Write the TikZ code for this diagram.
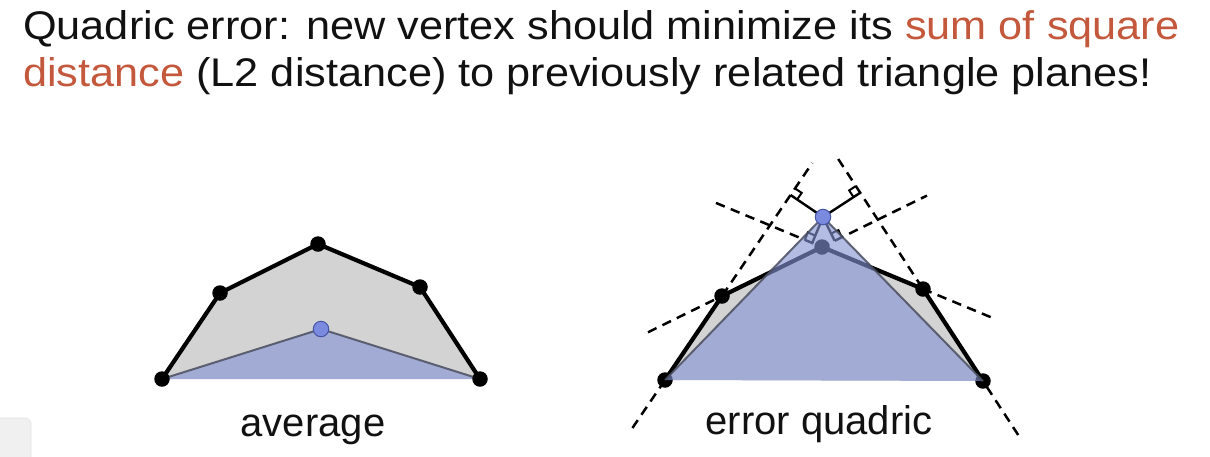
\documentclass[tikz,border=0pt]{standalone}
\usepackage{fontspec}
\setmainfont{Liberation Sans}
\usetikzlibrary{calc}
\definecolor{accent}{RGB}{196,88,60}
\definecolor{meshgray}{RGB}{211,211,211}
\definecolor{triblue}{RGB}{132,148,212}
\definecolor{dotblue}{RGB}{122,138,222}
\definecolor{dotrim}{RGB}{70,85,165}
\definecolor{triedgecol}{RGB}{75,78,95}
\definecolor{textcol}{RGB}{17,17,17}
\begin{document}
\begin{tikzpicture}[x=1pt,y=-1pt,
  vtx/.style={circle,fill=black,inner sep=0pt,minimum size=15.5pt},
  newvtx/.style={circle,fill=dotblue,draw=dotrim,line width=1pt,inner sep=0pt,minimum size=15.5pt},
  meshedge/.style={line width=4.2pt,line join=round,line cap=round},
  plane/.style={dash pattern=on 9.5pt off 6.5pt,line width=2.5pt},
  perp/.style={line width=2.4pt},
  rightmark/.style={line width=2pt},
  trifill/.style={fill=triblue,fill opacity=0.62},
  triedge/.style={draw=triedgecol,line width=2pt,draw opacity=0.85,line join=round},
  titletext/.style={font=\fontsize{40}{48}\selectfont,text=textcol,anchor=base west,inner sep=0pt},
  captext/.style={font=\fontsize{40}{48}\selectfont,text=textcol,anchor=base,inner sep=0pt}]
\useasboundingbox (0,0) rectangle (1210,456);
% UI artifact at bottom left
\fill[gray!12,rounded corners=6pt] (-12,418) rectangle (31,470);
\draw[gray!22,line width=0.8pt,rounded corners=6pt] (-12,418) rectangle (31,470);

% title
\node[titletext] (t1) at (23,39.5) {\scalebox{1.082}[1]{Quadric error: new vertex should minimize its \textcolor{accent}{sum of square}}};
\node[titletext] (t2) at (23,86.5) {\scalebox{1.082}[1]{\textcolor{accent}{distance} (L2 distance) to previously related triangle planes!}};

% ---------------- left: average ----------------
\coordinate (L1) at (162,379);
\coordinate (L2) at (220,293);
\coordinate (L3) at (318,244);
\coordinate (L4) at (420,287);
\coordinate (L5) at (480,379);
\coordinate (LC) at (321,329);
\fill[meshgray] (L1)--(L2)--(L3)--(L4)--(L5)--cycle;
\fill[trifill] (L1)--(LC)--(L5)--cycle;
\draw[triedge] (L1)--(LC)--(L5);
\draw[meshedge] (L1)--(L2)--(L3)--(L4)--(L5);
\foreach \p in {L1,L2,L3,L4,L5} \node[vtx] (d\p) at (\p) {};
\node[newvtx] (dLC) at (LC) {};
\node[captext] (cap1) at (313,436) {average};

% ---------------- right: error quadric ----------------
\coordinate (R1) at (665,380);
\coordinate (R2) at (722,296);
\coordinate (R3) at (822,247);
\coordinate (R4) at (923,289);
\coordinate (R5) at (983,381);
\coordinate (RV) at (823,217);
\fill[meshgray] (R1)--(R2)--(R3)--(R4)--(R5)--cycle;
% planes of the original edges
\coordinate (P1a) at ($(R1)!-0.571!(R2)$);
\coordinate (P1b) at ($(R1)!2.583!(R2)$);
\coordinate (P2a) at ($(R5)!-0.587!(R4)$);
\coordinate (P2b) at ($(R5)!2.457!(R4)$);
\coordinate (P3a) at ($(R2)!-0.74!(R3)$);
\coordinate (P3b) at ($(R2)!2.05!(R3)$);
\coordinate (P4a) at ($(R3)!-1.05!(R4)$);
\coordinate (P4b) at ($(R3)!1.683!(R4)$);
\draw[plane] (P1a) -- (P1b);
\draw[plane] (P2a) -- (P2b);
\draw[plane] (P3a) -- (P3b);
\draw[plane] (P4a) -- (P4b);
% perpendicular feet
\coordinate (F1) at ($(R1)!(RV)!(R2)$);
\coordinate (F2) at ($(R5)!(RV)!(R4)$);
\coordinate (F3) at ($(R2)!(RV)!(R3)$);
\coordinate (F4) at ($(R3)!(RV)!(R4)$);
\draw[perp] (RV) -- (F1);
\draw[perp] (RV) -- (F2);
\draw[perp] (RV) -- (F3);
\draw[perp] (RV) -- (F4);
% right-angle marks
\coordinate (M1a) at ($(F1)!8pt!(P1b)$);
\coordinate (M1b) at ($(F1)!8pt!(RV)$);
\coordinate (M2a) at ($(F2)!8pt!(P2b)$);
\coordinate (M2b) at ($(F2)!8pt!(RV)$);
\coordinate (M3a) at ($(F3)!8pt!(P3b)$);
\coordinate (M3b) at ($(F3)!8pt!(RV)$);
\coordinate (M4a) at ($(F4)!8pt!(P4a)$);
\coordinate (M4b) at ($(F4)!8pt!(RV)$);
\draw[rightmark] (M1a) -- ($(M1a)+(M1b)-(F1)$) -- (M1b);
\draw[rightmark] (M2a) -- ($(M2a)+(M2b)-(F2)$) -- (M2b);
\draw[rightmark] (M3a) -- ($(M3a)+(M3b)-(F3)$) -- (M3b);
\draw[rightmark] (M4a) -- ($(M4a)+(M4b)-(F4)$) -- (M4b);
% original mesh edges and vertices
\draw[meshedge] (R1)--(R2)--(R3)--(R4)--(R5);
\foreach \p in {R1,R2,R3,R4,R5} \node[vtx] (d\p) at (\p) {};
% new triangle
\fill[trifill] (R1)--(RV)--(R5)--cycle;
\draw[triedge] (R1)--(RV)--(R5);
\node[newvtx] (dRV) at (RV) {};
\node[captext] (cap2) at (819,434) {error quadric};
\end{tikzpicture}
\end{document}
